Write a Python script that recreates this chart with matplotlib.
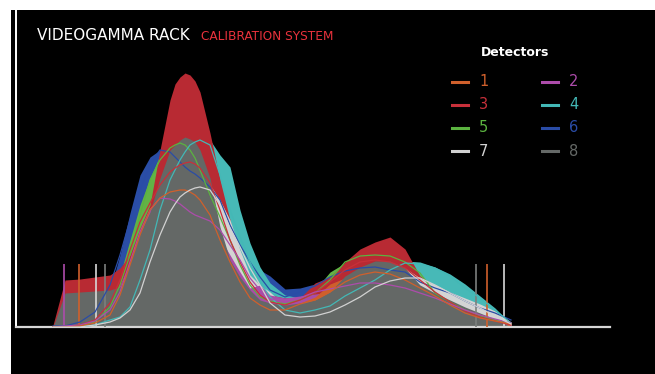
import numpy as np
import matplotlib.pyplot as plt
from matplotlib.lines import Line2D

# Энергетические каналы (общая сетка для всех детекторов)
channels = [37, 49, 64, 79, 94, 104, 114, 124, 134, 144, 154, 159, 164, 169, 174, 179,
            184, 194, 204, 214, 224, 234, 244, 254, 269, 284, 299, 314, 329, 344, 359,
            374, 389, 404, 419, 434, 449, 464, 479, 495]

# Накопленные спектры (заливка)
hold_1 = [0, 0, 1, 5, 22, 40, 64, 87, 110, 130, 137, 138, 139, 138, 135, 129, 122, 102,
          82, 62, 42, 29, 22, 19, 19, 24, 30, 43, 49, 52, 54, 52, 46, 39, 31, 23, 16, 10, 5, 2]
hold_2 = [0, 1, 3, 9, 27, 42, 65, 95, 119, 129, 127, 125, 122, 119, 115, 112, 109, 102,
          89, 72, 55, 39, 42, 32, 29, 31, 33, 35, 37, 39, 40, 39, 37, 31, 26, 21, 16, 11, 7, 3]
hold_3 = [2, 47, 48, 50, 52, 59, 72, 99, 122, 177, 227, 243, 250, 254, 252, 246, 235, 194,
          147, 107, 67, 44, 37, 32, 29, 29, 44, 50, 65, 78, 85, 90, 78, 51, 41, 31, 22, 14, 7, 1]
hold_4 = [0, 1, 2, 5, 12, 22, 37, 65, 99, 132, 162, 172, 179, 184, 187, 189, 190, 187,
          172, 160, 117, 84, 60, 44, 32, 29, 34, 42, 49, 56, 61, 65, 66, 65, 60, 53, 43, 31, 19, 3]
hold_5 = [0, 0, 1, 6, 24, 52, 87, 122, 149, 172, 182, 185, 187, 186, 182, 175, 167, 142,
          112, 82, 57, 42, 34, 29, 26, 28, 37, 55, 64, 69, 72, 71, 65, 52, 37, 27, 19, 12, 7, 3]
hold_6 = [0, 1, 3, 11, 37, 72, 114, 152, 170, 177, 182, 180, 177, 174, 169, 164, 159, 147,
          129, 102, 77, 62, 57, 51, 38, 39, 43, 49, 55, 59, 60, 59, 55, 47, 38, 30, 23, 16, 9, 2]
hold_7 = [0, 0, 0, 2, 7, 13, 22, 37, 62, 92, 117, 125, 132, 136, 139, 140, 140, 142,
          127, 107, 77, 52, 42, 35, 21, 21, 23, 29, 37, 47, 55, 59, 59, 49, 42, 35, 29, 23, 16, 5]
hold_8 = [0, 34, 35, 36, 37, 40, 65, 94, 115, 149, 177, 182, 187, 190, 188, 185, 177, 149,
          100, 67, 50, 37, 27, 24, 22, 24, 27, 35, 51, 60, 66, 66, 59, 42, 34, 27, 20, 14, 8, 0]

# Текущие спектры (линии)
live_1 = [0, 0, 1, 4, 12, 32, 62, 92, 117, 129, 135, 136, 137, 137, 135, 132, 127, 112,
          87, 65, 45, 29, 22, 17, 17, 23, 27, 35, 45, 52, 55, 53, 47, 39, 31, 22, 14, 9, 6, 3]
live_2 = [0, 1, 2, 6, 17, 35, 65, 95, 117, 129, 128, 126, 123, 119, 115, 112, 110, 106,
          97, 82, 67, 49, 37, 28, 27, 29, 35, 38, 41, 44, 44, 42, 39, 34, 29, 23, 17, 12, 8, 4]
live_3 = [0, 0, 2, 7, 24, 47, 77, 105, 124, 142, 155, 159, 162, 164, 165, 163, 159, 144,
          117, 87, 65, 45, 32, 25, 22, 27, 34, 45, 57, 65, 67, 65, 59, 47, 35, 25, 16, 10, 6, 2]
live_4 = [0, 0, 0, 2, 7, 10, 20, 47, 77, 117, 147, 157, 167, 175, 182, 185, 187, 182,
          152, 117, 90, 65, 45, 30, 17, 14, 17, 21, 31, 39, 47, 57, 64, 63, 59, 51, 39, 29, 17, 4]
live_5 = [0, 0, 1, 5, 20, 42, 72, 112, 147, 167, 179, 182, 184, 182, 177, 169, 157, 132,
          110, 87, 62, 42, 30, 26, 23, 27, 34, 47, 65, 71, 72, 71, 65, 54, 34, 25, 17, 11, 7, 4]
live_6 = [1, 1, 5, 15, 42, 72, 107, 137, 162, 177, 175, 170, 165, 160, 156, 153, 149, 140,
          127, 102, 82, 65, 50, 37, 30, 35, 41, 50, 56, 59, 60, 57, 55, 45, 39, 34, 26, 19, 14, 7]
live_7 = [0, 0, 0, 2, 5, 9, 17, 34, 65, 92, 115, 123, 130, 134, 137, 139, 140, 137,
          122, 99, 80, 59, 42, 24, 12, 10, 11, 15, 22, 30, 40, 46, 49, 49, 42, 34, 26, 19, 11, 3]

# Маркеры окон (канал, детектор)
marker_channels = [48, 63, 80, 89, 460, 471, 488]
marker_detectors = [2, 1, 7, 8, 8, 1, 7]
marker_height = 63

colors = {1: '#d0602c', 2: '#ad4cab', 3: '#c8303a', 4: '#43b8b6',
          5: '#5bb340', 6: '#2a4ca6', 7: '#d2d2d2', 8: '#656967'}
fill_colors = {1: '#cf5f2b', 2: '#a84ca8', 3: '#b82a33', 4: '#47b9b7',
               5: '#62b346', 6: '#2a4ea6', 7: '#d4d4d4', 8: '#646866'}
marker_colors = {1: '#d0602c', 2: '#ad4cab', 7: '#d8d8d8', 8: '#7c7f7d'}

holds = {1: hold_1, 2: hold_2, 3: hold_3, 4: hold_4,
         5: hold_5, 6: hold_6, 7: hold_7, 8: hold_8}
lives = {1: live_1, 2: live_2, 3: live_3, 4: live_4,
         5: live_5, 6: live_6, 7: live_7}

W, H = 655, 374
fig = plt.figure(figsize=(W / 100, H / 100), dpi=100, facecolor='white')

# чёрная панель
panel = fig.add_axes([11 / W, 0, (W - 11) / W, (H - 10) / H])
panel.set_facecolor('black')
panel.set_xticks([])
panel.set_yticks([])
for s in panel.spines.values():
    s.set_visible(False)

ax = fig.add_axes([16 / W, 47 / H, 594 / W, 317 / H])
ax.set_facecolor('none')
ax.set_xlim(0, 594)
ax.set_ylim(0, 317)
ax.set_xticks([])
ax.set_yticks([])
ax.spines['top'].set_visible(False)
ax.spines['right'].set_visible(False)
ax.spines['left'].set_color('white')
ax.spines['left'].set_linewidth(1.4)
ax.spines['bottom'].set_color('#d6d6d6')
ax.spines['bottom'].set_linewidth(1.6)

x = np.array(channels)
for d in [6, 4, 5, 3, 7, 2, 1, 8]:
    ax.fill_between(x, 0, holds[d], color=fill_colors[d], lw=0, zorder=2)

ax.vlines(marker_channels, 0, marker_height,
          colors=[marker_colors[d] for d in marker_detectors], lw=1.2, zorder=3)

for d in [6, 5, 4, 3, 2, 1, 7]:
    ax.plot(x, lives[d], color=colors[d], lw=0.9, zorder=4)

# заголовок
fig.text(37 / W, 1 - 36 / H, 'VIDEOGAMMA RACK', color='white', fontsize=11,
         ha='left', va='center')
fig.text(201 / W, 1 - 36.5 / H, 'CALIBRATION SYSTEM', color='#e8323c', fontsize=8.7,
         ha='left', va='center')

# легенда
fig.text(515 / W, 1 - 53 / H, 'Detectors', color='white', fontsize=9,
         fontweight='semibold', ha='center', va='center')
rows = [82, 104.5, 128, 151]
for d in range(1, 9):
    r, c = (d - 1) // 2, (d - 1) % 2
    y = 1 - rows[r] / H
    x0 = [452, 542][c]
    fig.add_artist(Line2D([x0 / W, (x0 + 16) / W], [y, y], color=colors[d], lw=2.2,
                          transform=fig.transFigure))
    fig.text((x0 + 27) / W, y, str(d), color=colors[d], fontsize=10.5,
             ha='left', va='center')

fig.savefig('out.png', dpi=100, facecolor='white')
